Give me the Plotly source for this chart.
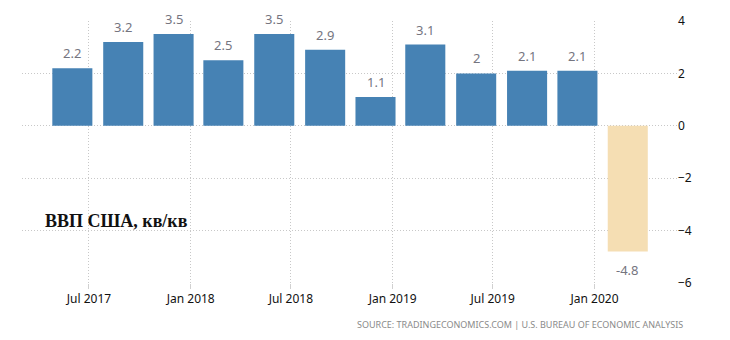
import plotly.graph_objects as go

# Quarterly US GDP growth, q/q annualised (%)
quarters = ["2017-06-01", "2017-09-01", "2017-12-01", "2018-03-01",
            "2018-06-01", "2018-09-01", "2018-12-01", "2019-03-01",
            "2019-06-01", "2019-09-01", "2019-12-01", "2020-03-01"]
gdp_growth = [2.2, 3.2, 3.5, 2.5, 3.5, 2.9, 1.1, 3.1, 2, 2.1, 2.1, -4.8]
value_labels = ["2.2", "3.2", "3.5", "2.5", "3.5", "2.9", "1.1", "3.1",
                "2", "2.1", "2.1", "-4.8"]

BLUE = "#4682B4"
WHEAT = "#F5DEB3"
colors = [BLUE if v >= 0 else WHEAT for v in gdp_growth]

DAY_MS = 86400000

fig = go.Figure(
    go.Bar(
        x=quarters,
        y=gdp_growth,
        marker=dict(color=colors, line=dict(width=0)),
        width=[72.4 * DAY_MS] * len(quarters),
        hoverinfo="x+y",
    )
)

# value labels above / below each bar
for q, v, lab in zip(quarters, gdp_growth, value_labels):
    fig.add_annotation(
        x=q, y=v, text=lab, showarrow=False,
        xref="x", yref="y",
        yanchor="bottom" if v >= 0 else "top",
        yshift=4 if v >= 0 else -7,
        font=dict(family="Noto Sans", size=13, color="#75757f"),
    )

# chart title inside the plot area
fig.add_annotation(
    x=0.032, y=0.237, xref="paper", yref="paper",
    xanchor="left", yanchor="middle", showarrow=False,
    text="<b>ВВП США, кв/кв</b>",
    font=dict(family="Liberation Serif", size=18, color="#111111"),
)

# source line
fig.add_annotation(
    x=1.0127, y=-0.158, xref="paper", yref="paper",
    xanchor="right", yanchor="middle", showarrow=False,
    text="SOURCE: TRADINGECONOMICS.COM | U.S. BUREAU OF ECONOMIC ANALYSIS",
    font=dict(family="Noto Sans", size=9, color="#8a8a8a"),
)

GRID = dict(showgrid=True, gridcolor="#c8c8c8", griddash="1px,2px", gridwidth=1)

fig.update_layout(
    width=730, height=340,
    margin=dict(l=22, r=53, t=19, b=57),
    paper_bgcolor="white",
    plot_bgcolor="white",
    showlegend=False,
    xaxis=dict(
        type="date",
        range=["2017-03-02", "2020-05-29"],
        tick0="2017-07-01", dtick="M6", tickformat="%b %Y",
        ticks="outside", ticklen=5, tickcolor="#d0d0d0",
        showline=False, zeroline=False,
        tickfont=dict(family="Noto Sans", size=12, color="#111111"),
        **GRID,
    ),
    yaxis=dict(
        side="right",
        range=[-6, 4], dtick=2, tick0=0,
        zeroline=False, showline=False, ticks="",
        tickfont=dict(family="Noto Sans", size=12, color="#111111"),
        **GRID,
    ),
)

fig.write_html("out.html")
